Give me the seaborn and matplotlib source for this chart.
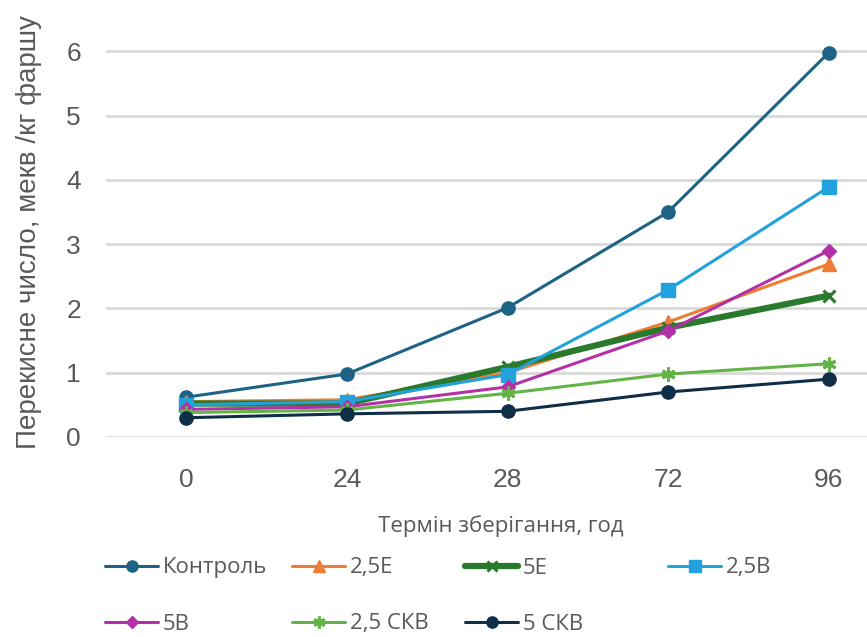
import matplotlib
matplotlib.use("Agg")
import matplotlib.pyplot as plt
from matplotlib.lines import Line2D
import seaborn as sns
import pandas as pd

# Storage time (hours) shown as categories
hours = ["0", "24", "28", "72", "96"]

control = [0.62, 0.98, 2.01, 3.50, 5.98]
e25 = [0.55, 0.58, 1.00, 1.79, 2.69]
e5 = [0.52, 0.52, 1.09, 1.70, 2.20]
b25 = [0.50, 0.55, 0.97, 2.29, 3.89]
b5 = [0.43, 0.47, 0.78, 1.65, 2.90]
skv25 = [0.38, 0.42, 0.68, 0.98, 1.14]
skv5 = [0.30, 0.36, 0.40, 0.70, 0.90]

series_names = ["Контроль", "2,5Е", "5Е", "2,5В", "5В", "2,5 СКВ", "5 СКВ"]
series_values = [control, e25, e5, b25, b5, skv25, skv5]

colors = ["#1e6386", "#ee7d31", "#2a7a2e", "#21a2dc", "#b331a6", "#62b446", "#0f2e47"]
markers = ["o", "^", "x", "s", "D", (6, 2, 0), "o"]
msizes = [9.5, 9.5, 9, 9.5, 7.5, 10, 9.5]
lwidths = [2.2, 2.2, 4.5, 2.2, 2.2, 2.2, 2.2]

df = pd.DataFrame(
    [(n, h, v) for n, vals in zip(series_names, series_values) for h, v in zip(hours, vals)],
    columns=["series", "hour", "value"],
)

sns.set_theme(style="white")
plt.rcParams["font.family"] = ["Liberation Sans", "DejaVu Sans"]

W, H = 867, 637
fig = plt.figure(figsize=(W / 100, H / 100), dpi=100)
# plot area: x from 106 px to 909 px (beyond the right edge), y from 0 px to 437 px
ax = fig.add_axes([106 / W, (H - 437) / H, 803 / W, 437 / H])

grey = "#595959"
handles = []
for name, col, mk, ms, lw in zip(series_names, colors, markers, msizes, lwidths):
    sub = df[df["series"] == name]
    mew = 2.2 if mk in ("x", (6, 2, 0)) else 1.0
    sns.lineplot(
        data=sub, x="hour", y="value", ax=ax, color=col, linewidth=lw,
        marker=mk, markersize=ms, markeredgecolor=col, markerfacecolor=col,
        markeredgewidth=mew, sort=False, legend=False,
    )
    handles.append(Line2D([], [], color=col, linewidth=lw, marker=mk,
                          markersize=ms * 0.85, markeredgecolor=col,
                          markerfacecolor=col, markeredgewidth=mew))

ax.set_xlim(-0.5, 4.5)
ax.set_ylim(0, 6.8)
ax.set_yticks(range(0, 7))
ax.grid(axis="y", color="#d9d9d9", linewidth=2)
ax.grid(axis="x", visible=False)
ax.set_axisbelow(True)
for s in ax.spines.values():
    s.set_visible(False)

ax.tick_params(axis="both", length=0, labelcolor=grey, labelsize=19)
ax.tick_params(axis="y", pad=18)
ax.tick_params(axis="x", pad=22)

ax.set_ylabel("Перекисне число, мекв /кг фаршу", fontsize=20, color=grey)
ax.yaxis.set_label_coords(-64 / 803, 0.5 + (437 / 2 - 232) / 437)
ax.set_xlabel("Термін зберігання, год", fontsize=16, color=grey,
              fontfamily=["Open Sans", "DejaVu Sans"])
ax.xaxis.set_label_coords((501 - 106) / 803, -(515 - 437) / 437)

# legend entries placed on the same grid as the chart's key
positions = [(105, 568), (292, 568), (465, 568), (668, 568),
             (105, 624), (292, 624), (465, 624)]
for h, name, (px, py) in zip(handles, series_names, positions):
    fig.legend(handles=[h], labels=[name], loc="center left",
               bbox_to_anchor=(px / W, 1 - py / H), frameon=False,
               borderpad=0, borderaxespad=0, handlelength=2.4,
               handletextpad=0.2,
               prop={"family": ["Open Sans", "DejaVu Sans"], "size": 16},
               labelcolor=grey)

fig.savefig("out.png", dpi=100)
